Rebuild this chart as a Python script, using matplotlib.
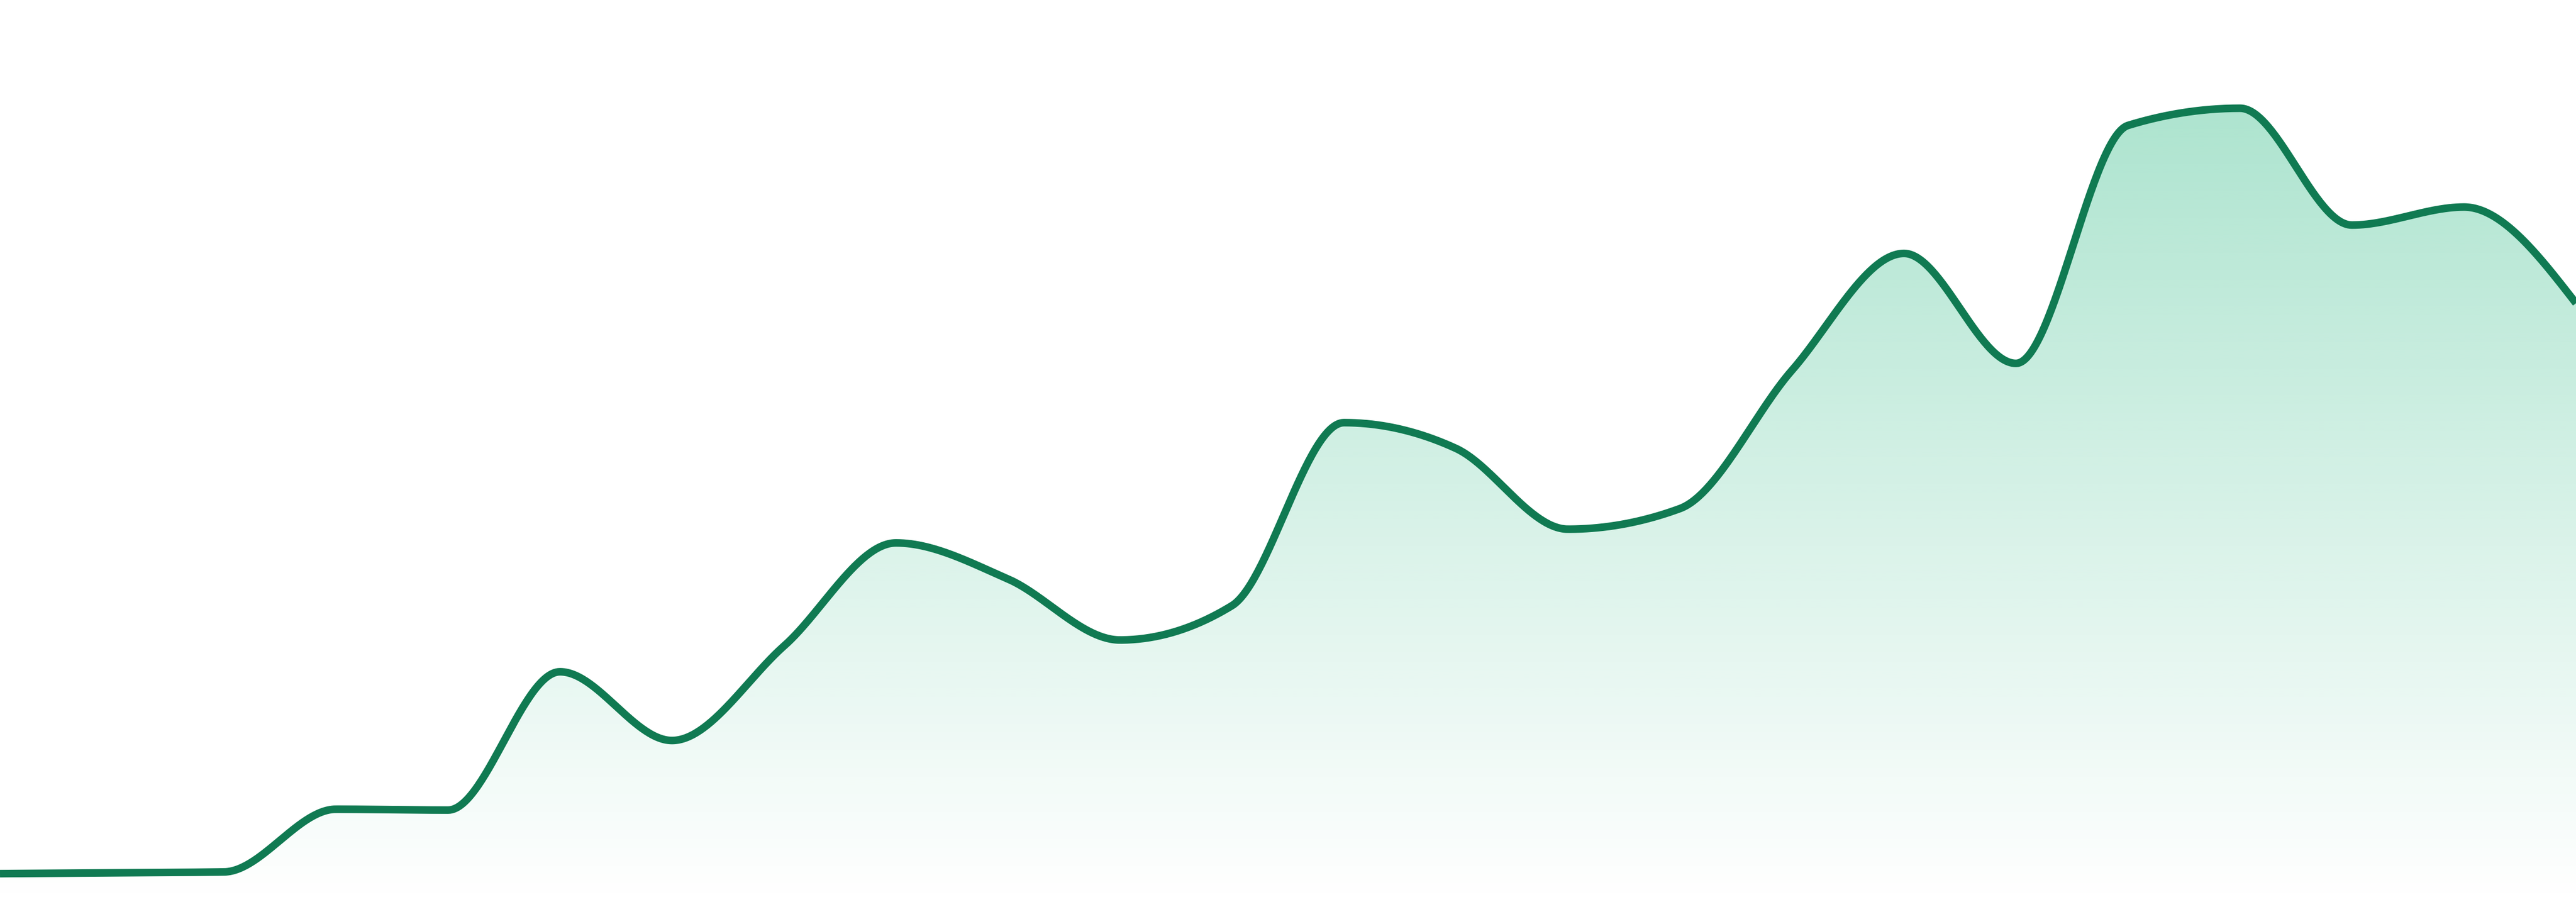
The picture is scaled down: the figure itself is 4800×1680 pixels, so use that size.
import numpy as np
import matplotlib
matplotlib.use("Agg")
import matplotlib.pyplot as plt
from matplotlib.colors import to_rgb

# ---- data ----
periods = list(range(24))
values = [3.3, 3.4, 3.5, 10.8, 10.7, 26.8, 18.8, 29.8, 41.8, 37.6, 30.5, 34.5,
          55.8, 52.8, 43.4, 45.8, 61.9, 75.5, 62.7, 90.4, 92.4, 78.8, 80.9, 69.7]
y_max = 105

line_color = "#107a52"
fill_color = "#15b276"
alpha_top = 0.35
alpha_bottom = 0.0


def monotone_curve(x, y, n=60):
    """Monotone cubic (Steffen, like d3.curveMonotoneX) through the data points."""
    x = np.asarray(x, float)
    y = np.asarray(y, float)
    k = len(x)
    sgn = lambda v: -1.0 if v < 0 else 1.0
    m = np.zeros(k)
    for i in range(1, k - 1):
        h0 = x[i] - x[i - 1]
        h1 = x[i + 1] - x[i]
        s0 = (y[i] - y[i - 1]) / h0
        s1 = (y[i + 1] - y[i]) / h1
        p = (s0 * h1 + s1 * h0) / (h0 + h1)
        m[i] = (sgn(s0) + sgn(s1)) * min(abs(s0), abs(s1), 0.5 * abs(p))
    h = x[1] - x[0]
    m[0] = (3 * (y[1] - y[0]) / h - m[1]) / 2
    h = x[-1] - x[-2]
    m[-1] = (3 * (y[-1] - y[-2]) / h - m[-2]) / 2
    xs, ys = [], []
    for i in range(k - 1):
        h = x[i + 1] - x[i]
        t = np.linspace(0, 1, n, endpoint=(i == k - 2))
        h00 = 2 * t**3 - 3 * t**2 + 1
        h10 = t**3 - 2 * t**2 + t
        h01 = -2 * t**3 + 3 * t**2
        h11 = t**3 - t**2
        xs.append(x[i] + t * h)
        ys.append(h00 * y[i] + h10 * h * m[i] + h01 * y[i + 1] + h11 * h * m[i + 1])
    return np.concatenate(xs), np.concatenate(ys)


xs, ys = monotone_curve(periods, values)

fig = plt.figure(figsize=(16, 5.6), dpi=300)
fig.patch.set_facecolor("white")
ax = fig.add_axes([0, 0, 1, 1])
ax.set_xlim(periods[0], periods[-1])
ax.set_ylim(0, y_max)
ax.axis("off")

# gradient fill under the curve
top = max(values)
g = np.linspace(0, 1, 512)[:, None]
img = np.zeros((512, 2, 4))
img[..., :3] = to_rgb(fill_color)
img[..., 3] = alpha_bottom + (alpha_top - alpha_bottom) * g
im = ax.imshow(img, extent=[periods[0], periods[-1], 0, top], origin="lower",
               aspect="auto", interpolation="bilinear", zorder=1)
poly = ax.fill_between(xs, ys, 0, facecolor="none", edgecolor="none")
im.set_clip_path(poly.get_paths()[0], transform=ax.transData)

ax.plot(xs, ys, color=line_color, lw=3.4, solid_capstyle="butt",
        solid_joinstyle="round", zorder=3)

fig.savefig("out.png", dpi=300, facecolor="white")
